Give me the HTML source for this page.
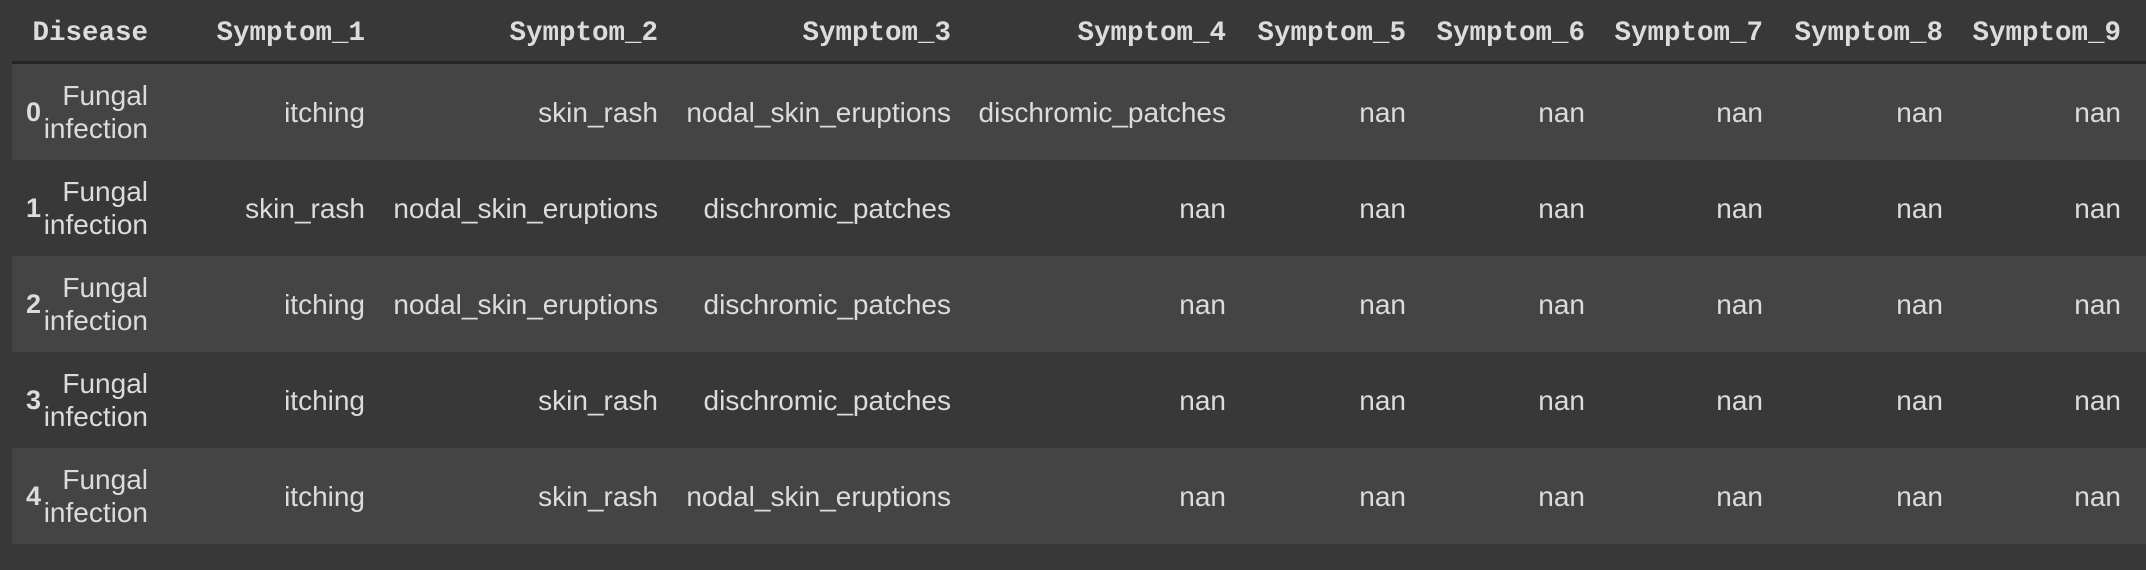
<!DOCTYPE html>
<html><head><meta charset="utf-8"><style>
html,body{margin:0;padding:0;background:#383838;width:2146px;height:570px;overflow:hidden}
.t{position:absolute;color:#dcdcdc;white-space:nowrap}
.h{font-family:"Liberation Mono",monospace;font-weight:bold;font-size:27.5px;top:18px;line-height:32px}
.d{font-family:"Liberation Sans",sans-serif;font-size:28px;line-height:33px;text-align:right}
.i{font-family:"Liberation Sans",sans-serif;font-weight:bold;font-size:27px;line-height:33px;left:26px}
.row{position:absolute;left:12px;right:0;height:96px}
</style></head><body>
<div style="position:absolute;left:12px;right:0;top:61px;height:3px;background:#252525"></div>
<div class="row" style="top:64px;background:#444"></div>
<div class="row" style="top:256px;background:#444"></div>
<div class="row" style="top:448px;background:#444"></div>
<div id="c"></div>
<script>
var rights=[148,365,658,951,1226,1406,1585,1763,1943,2121];
var heads=["Disease","Symptom_1","Symptom_2","Symptom_3","Symptom_4","Symptom_5","Symptom_6","Symptom_7","Symptom_8","Symptom_9"];
var rows=[
["itching","skin_rash","nodal_skin_eruptions","dischromic_patches"],
["skin_rash","nodal_skin_eruptions","dischromic_patches","nan"],
["itching","nodal_skin_eruptions","dischromic_patches","nan"],
["itching","skin_rash","dischromic_patches","nan"],
["itching","skin_rash","nodal_skin_eruptions","nan"]];
var h="";
heads.forEach(function(t,k){h+='<div class="t h" style="right:'+(2146-rights[k])+'px">'+t+'</div>';});
rows.forEach(function(r,i){
 var c=112+96*i;
 h+='<div class="t i" style="top:'+(c-16)+'px">'+i+'</div>';
 h+='<div class="t d" style="top:'+(c-33)+'px;right:'+(2146-rights[0])+'px">Fungal<br>infection</div>';
 var vals=r.concat(["nan","nan","nan","nan","nan"]);
 vals.forEach(function(v,k){h+='<div class="t d" style="top:'+(c-16)+'px;right:'+(2146-rights[k+1])+'px">'+v+'</div>';});
});
document.getElementById("c").innerHTML=h;
</script>
</body></html>
